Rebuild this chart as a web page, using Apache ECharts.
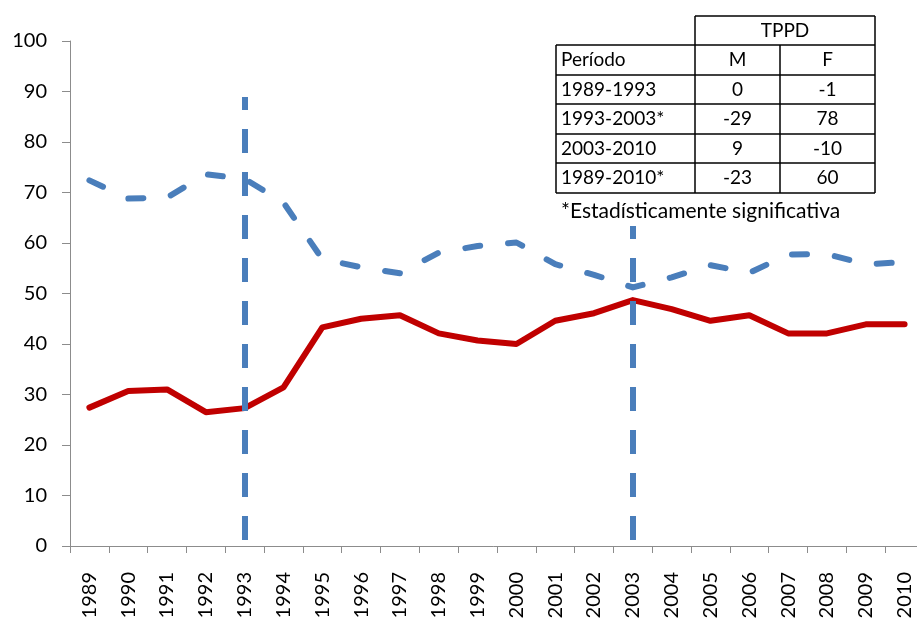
<!DOCTYPE html>
<html>
<head>
<meta charset="utf-8">
<script src="https://cdn.jsdelivr.net/npm/echarts@6/dist/echarts.min.js"></script>
<style>
  html, body { margin: 0; padding: 0; background: #fff; }
  .chart { width: 917px; height: 619px; }
</style>
</head>
<body>
<div class="chart"></div>
<script>
// datos
let years = ["1989", "1990", "1991", "1992", "1993", "1994", "1995", "1996", "1997", "1998", "1999",
  "2000", "2001", "2002", "2003", "2004", "2005", "2006", "2007", "2008", "2009", "2010"];
let serieRoja = [27.4, 30.7, 31.0, 26.5, 27.3, 31.4, 43.3, 45.0, 45.7, 42.1, 40.7,
  40.0, 44.6, 46.1, 48.7, 46.9, 44.6, 45.7, 42.1, 42.1, 43.9, 43.9];
let serieAzul = [72.4, 68.8, 69.0, 73.6, 72.7, 68.0, 56.8, 55.2, 54.0, 58.1, 59.4,
  60.1, 55.8, 53.7, 51.2, 53.2, 55.6, 54.1, 57.7, 57.8, 55.8, 56.2];
let cortes = ["1993", "2003"]; // lineas verticales
let corteMin = 1.2;
let corteMax = 88.9;
let yTicks = [0, 10, 20, 30, 40, 50, 60, 70, 80, 90, 100];

// tabla
let tablaTitulo = "TPPD";
let tablaCabecera = ["Período", "M", "F"];
let tablaFilas = [
  ["1989-1993", "0", "-1"],
  ["1993-2003*", "-29", "78"],
  ["2003-2010", "9", "-10"],
  ["1989-2010*", "-23", "60"],
];
let nota = "*Estadísticamente significativa";

function setLineChart() {
  let myChart = echarts.init(document.querySelector(".chart"));
  let font = "Lato";
  let azul = "#4A7EBB";
  let rojo = "#C00000";
  let gris = "#8c8c8c";

  // tabla con graphic
  let colX = [556, 695, 780, 875];
  let rowY = [16, 45, 75, 104, 134, 163, 193];
  let g = [];
  // fondo blanco (tapa la linea de 2003)
  g.push({ type: "rect", shape: { x: 553, y: 14, width: 325, height: 212 }, style: { fill: "#fff" }, z: 100 });
  let lineStyle = { stroke: "#000", lineWidth: 1.5 };
  g.push({ type: "line", shape: { x1: colX[1], y1: rowY[0], x2: colX[3], y2: rowY[0] }, style: lineStyle, z: 101 });
  for (let i = 1; i < rowY.length; i++) {
    g.push({ type: "line", shape: { x1: colX[0], y1: rowY[i], x2: colX[3], y2: rowY[i] }, style: lineStyle, z: 101 });
  }
  g.push({ type: "line", shape: { x1: colX[0], y1: rowY[1], x2: colX[0], y2: rowY[6] }, style: lineStyle, z: 101 });
  g.push({ type: "line", shape: { x1: colX[1], y1: rowY[0], x2: colX[1], y2: rowY[6] }, style: lineStyle, z: 101 });
  g.push({ type: "line", shape: { x1: colX[2], y1: rowY[1], x2: colX[2], y2: rowY[6] }, style: lineStyle, z: 101 });
  g.push({ type: "line", shape: { x1: colX[3], y1: rowY[0], x2: colX[3], y2: rowY[6] }, style: lineStyle, z: 101 });

  let txt = function (s, x, y, align, size) {
    return {
      type: "text", x: x, y: y, z: 102,
      style: { text: s, fill: "#000", font: (size || 19) + "px " + font, align: align, verticalAlign: "middle" },
    };
  };
  g.push(txt(tablaTitulo, (colX[1] + colX[3]) / 2, (rowY[0] + rowY[1]) / 2, "center"));
  let filas = [tablaCabecera].concat(tablaFilas);
  filas.forEach(function (f, i) {
    let yc = (rowY[i + 1] + rowY[i + 2]) / 2;
    g.push(txt(f[0], colX[0] + 5, yc, "left"));
    g.push(txt(f[1], (colX[1] + colX[2]) / 2, yc, "center"));
    g.push(txt(f[2], (colX[2] + colX[3]) / 2, yc, "center"));
  });
  g.push(txt(nota, 561, 211, "left", 21));

  let option = {
    animation: false,
    grid: {
      left: 70,
      top: 41,
      width: 854,
      height: 505,
      outerBoundsMode: "none",
    },
    xAxis: {
      type: "category",
      data: years,
      boundaryGap: true,
      axisLine: { lineStyle: { color: gris, width: 1 } },
      axisTick: { show: true, interval: 0, length: 7, lineStyle: { color: gris } },
      axisLabel: {
        interval: 0,
        rotate: 90,
        margin: 26,
        color: "#000",
        fontFamily: font,
        fontSize: 20,
      },
    },
    yAxis: {
      type: "value",
      min: yTicks[0],
      max: yTicks[yTicks.length - 1],
      interval: 10,
      axisLine: { show: true, lineStyle: { color: gris, width: 1 } },
      axisTick: { show: true, length: 8, lineStyle: { color: gris } },
      splitLine: { show: false },
      axisLabel: {
        margin: 23,
        color: "#000",
        fontFamily: font,
        fontSize: 20,
      },
    },
    series: [
      {
        name: "F",
        type: "line",
        data: serieAzul,
        symbol: "none",
        z: 3,
        lineStyle: {
          color: azul,
          width: 6,
          type: [15, 28],
          cap: "round",
          join: "round",
        },
      },
      {
        name: "M",
        type: "line",
        data: serieRoja,
        symbol: "none",
        z: 4,
        lineStyle: {
          color: rojo,
          width: 6,
          cap: "round",
          join: "round",
        },
        // lineas verticales de los periodos
        markLine: {
          silent: true,
          symbol: ["none", "none"],
          label: { show: false },
          lineStyle: { color: azul, width: 6, type: [24, 19], cap: "butt" },
          emphasis: { disabled: true },
          data: cortes.map(function (c) {
            return [{ coord: [c, corteMin] }, { coord: [c, corteMax] }];
          }),
        },
      },
    ],
    graphic: g,
  };
  myChart.setOption(option);
}
//llamar
setLineChart();
</script>
</body>
</html>
